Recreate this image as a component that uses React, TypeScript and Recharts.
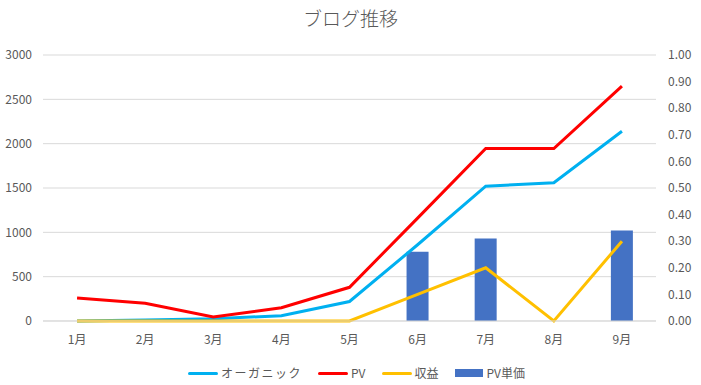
import React from "react";
import {
  ComposedChart,
  Bar,
  Line,
  XAxis,
  YAxis,
  CartesianGrid,
  Legend,
} from "recharts";

const months = ["1月", "2月", "3月", "4月", "5月", "6月", "7月", "8月", "9月"];
const organic = [0, 10, 25, 60, 220, 860, 1520, 1560, 2140];
const pv = [260, 200, 45, 150, 380, 1160, 1945, 1945, 2650];
const revenue = [0, 0, 0, 0, 0, 0.1, 0.2, 0, 0.3];
const unitPrice = [0, 0, 0, 0, 0, 0.26, 0.31, 0, 0.34];

const leftTicks = [0, 500, 1000, 1500, 2000, 2500, 3000];
const rightTicks = [0, 0.1, 0.2, 0.3, 0.4, 0.5, 0.6, 0.7, 0.8, 0.9, 1.0];

const data = months.map((m, i) => ({
  month: m,
  organic: organic[i],
  pv: pv[i],
  revenue: revenue[i],
  unitPrice: unitPrice[i],
}));

const FONT = "'Noto Sans CJK JP', 'Noto Sans', sans-serif";
const GREY = "#595959";

const legendItems = [
  { label: "オーガニック", color: "#00B0F0", type: "line", spacing: 1.5 },
  { label: "PV", color: "#FF0000", type: "line", spacing: 0 },
  { label: "収益", color: "#FFC000", type: "line", spacing: 0 },
  { label: "PV単価", color: "#4472C4", type: "rect", spacing: 0 },
];

function ChartLegend() {
  return (
    <div
      style={{
        display: "flex",
        justifyContent: "center",
        alignItems: "flex-end",
        height: 36,
        fontFamily: FONT,
        fontSize: 12,
        color: GREY,
        gap: 16,
        paddingLeft: 12,
      }}
    >
      {legendItems.map((it) => (
        <div key={it.label} style={{ display: "flex", alignItems: "center", lineHeight: "16px" }}>
          {it.type === "line" ? (
            <span style={{ display: "inline-block", width: 30, height: 3, background: it.color, borderRadius: 2, marginRight: 3 }} />
          ) : (
            <span style={{ display: "inline-block", width: 28, height: 8, background: it.color, marginRight: 4 }} />
          )}
          <span style={{ letterSpacing: it.spacing }}>{it.label}</span>
        </div>
      ))}
    </div>
  );
}

export default function App() {
  return (
    <div style={{ position: "fixed", left: 0, top: 0, width: 701, height: 385, background: "#fff" }}>
      <div
        style={{
          position: "absolute",
          top: 4,
          left: 0,
          width: 701,
          textAlign: "center",
          fontFamily: FONT,
          fontSize: 19,
          fontWeight: 300,
          color: GREY,
        }}
      >
        ブログ推移
      </div>
      <ComposedChart
        width={701}
        height={385}
        data={data}
        margin={{ top: 55, right: 8, left: 8, bottom: 4 }}
      >
        <CartesianGrid vertical={false} stroke="#d9d9d9" yAxisId="left" />
        <XAxis
          dataKey="month"
          tickLine={false}
          axisLine={{ stroke: "#d9d9d9" }}
          tickMargin={8}
          height={24}
          tick={{ fill: GREY, fontSize: 12, fontFamily: FONT }}
        />
        <YAxis
          yAxisId="left"
          domain={[0, 3000]}
          ticks={leftTicks}
          width={35}
          axisLine={false}
          tickLine={false}
          tickMargin={5}
          tick={{ fill: GREY, fontSize: 12, fontFamily: FONT }}
        />
        <YAxis
          yAxisId="right"
          orientation="right"
          domain={[0, 1]}
          ticks={rightTicks}
          width={37}
          axisLine={false}
          tickLine={false}
          tickMargin={6}
          tickFormatter={(v: number) => v.toFixed(2)}
          tick={{ fill: GREY, fontSize: 12, fontFamily: FONT, textAnchor: "start" }}
        />
        <Bar yAxisId="right" dataKey="unitPrice" name="PV単価" fill="#4472C4" barSize={22} isAnimationActive={false} />
        <Line yAxisId="left" dataKey="organic" name="オーガニック" stroke="#00B0F0" strokeWidth={3} dot={false} type="linear" isAnimationActive={false} />
        <Line yAxisId="left" dataKey="pv" name="PV" stroke="#FF0000" strokeWidth={3} dot={false} type="linear" isAnimationActive={false} />
        <Line yAxisId="right" dataKey="revenue" name="収益" stroke="#FFC000" strokeWidth={3} dot={false} type="linear" isAnimationActive={false} />
        <Legend verticalAlign="bottom" height={36} content={() => <ChartLegend />} />
      </ComposedChart>
    </div>
  );
}
